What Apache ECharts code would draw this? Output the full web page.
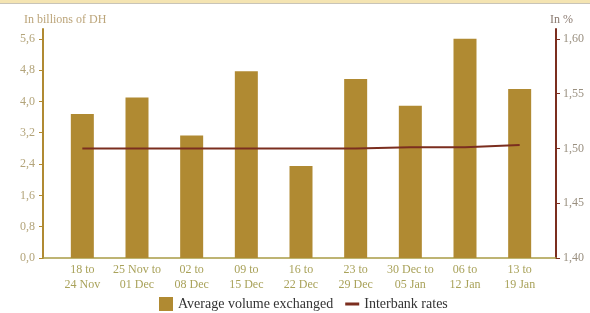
<!DOCTYPE html>
<html>
<head>
<meta charset="utf-8">
<script src="https://cdn.jsdelivr.net/npm/echarts@6/dist/echarts.min.js"></script>
<style>
  html, body { margin: 0; padding: 0; background: #fff; }
  #WeeklyChart { position: absolute; left: 0; top: 0; width: 590px; height: 313px; }
  .TopBand { position: absolute; left: 0; top: 0; width: 590px; height: 3px; background: #f4e4b2; border-bottom: 1px solid #c8c4b8; }
</style>
</head>
<body>
<div id="WeeklyChart"></div>
<div class="TopBand"></div>
<script>
const weeks = ['18 to\n24 Nov', '25 Nov to\n01 Dec', '02 to\n08 Dec', '09 to\n15 Dec', '16 to\n22 Dec',
  '23 to\n29 Dec', '30 Dec to\n05 Jan', '06 to\n12 Jan', '13 to\n19 Jan']
const volumeData = [3.68, 4.10, 3.13, 4.77, 2.35, 4.57, 3.89, 5.60, 4.32]
const rateData = [1.500, 1.500, 1.500, 1.500, 1.500, 1.500, 1.501, 1.501, 1.503]
const volumeTicks = [0, 0.8, 1.6, 2.4, 3.2, 4.0, 4.8, 5.6]
const rateTicks = [1.40, 1.45, 1.50, 1.55, 1.60]

const gold = '#b08a32'
const brown = '#7b2e1f'
const serif = '"Liberation Serif", "DejaVu Serif", serif'

const chart = echarts.init(document.getElementById('WeeklyChart'))
chart.setOption({
  animation: false,
  title: [
    { text: 'In billions of DH', left: 19, top: 9, textStyle: { color: '#bca57a', fontSize: 12, fontWeight: 'normal', fontFamily: serif } },
    { text: 'In %', left: 545, top: 9, textStyle: { color: '#8a7a70', fontSize: 12, fontWeight: 'normal', fontFamily: serif } }
  ],
  legend: {
    left: 159,
    top: 297,
    padding: 0,
    itemWidth: 14,
    itemHeight: 14,
    itemGap: 12,
    textStyle: { color: '#333', fontSize: 14, fontFamily: serif },
    data: [
      { name: 'Average volume exchanged', icon: 'rect' },
      { name: 'Interbank rates', icon: 'path://M0,0L0,14L0.01,14ZM0,5.5H14V8.5H0Z' }
    ]
  },
  grid: [
    { left: 55, right: 43, top: 29, bottom: 55 },
    { left: 43, right: 34, top: 29, bottom: 55 }
  ],
  xAxis: [
    {
      type: 'category',
      gridIndex: 0,
      data: weeks,
      axisLine: { show: false },
      axisTick: { show: false },
      axisLabel: { color: '#a9a25a', fontSize: 12, fontFamily: serif, lineHeight: 15, margin: 4, interval: 0 }
    },
    {
      type: 'value',
      gridIndex: 1,
      min: 0,
      max: 1,
      axisLine: { show: true, lineStyle: { color: '#a99c45', width: 1.5 } },
      axisTick: { show: false },
      axisLabel: { show: false },
      splitLine: { show: false }
    }
  ],
  yAxis: [
    {
      type: 'value',
      gridIndex: 0,
      min: 0,
      max: 5.85,
      offset: 12,
      axisLine: { show: true, lineStyle: { color: gold, width: 2 } },
      axisTick: { show: true, length: 4, customValues: volumeTicks, lineStyle: { color: gold } },
      axisLabel: {
        customValues: volumeTicks,
        color: '#b3a47a',
        fontSize: 12,
        fontFamily: serif,
        margin: 8,
        formatter: v => v.toFixed(1).replace('.', ',')
      },
      splitLine: { show: false }
    },
    {
      type: 'value',
      gridIndex: 0,
      position: 'right',
      min: 1.40,
      max: 1.4 + 0.2 * 5.85 / 5.6,
      offset: 9,
      axisLine: { show: true, lineStyle: { color: brown, width: 2 } },
      axisTick: { show: true, length: 4, customValues: rateTicks, lineStyle: { color: brown } },
      axisLabel: {
        customValues: rateTicks,
        color: '#9a9080',
        fontSize: 12,
        fontFamily: serif,
        margin: 7,
        formatter: v => v.toFixed(2).replace('.', ',')
      },
      splitLine: { show: false }
    },
    { type: 'value', gridIndex: 1, show: false, min: 0, max: 1 }
  ],
  series: [
    {
      name: 'Average volume exchanged',
      type: 'bar',
      xAxisIndex: 0,
      yAxisIndex: 0,
      barWidth: 23,
      itemStyle: { color: gold },
      data: volumeData
    },
    {
      name: 'Interbank rates',
      type: 'line',
      xAxisIndex: 0,
      yAxisIndex: 1,
      symbol: 'none',
      lineStyle: { color: brown, width: 2 },
      itemStyle: { color: brown },
      data: rateData
    }
  ]
})
</script>
</body>
</html>
